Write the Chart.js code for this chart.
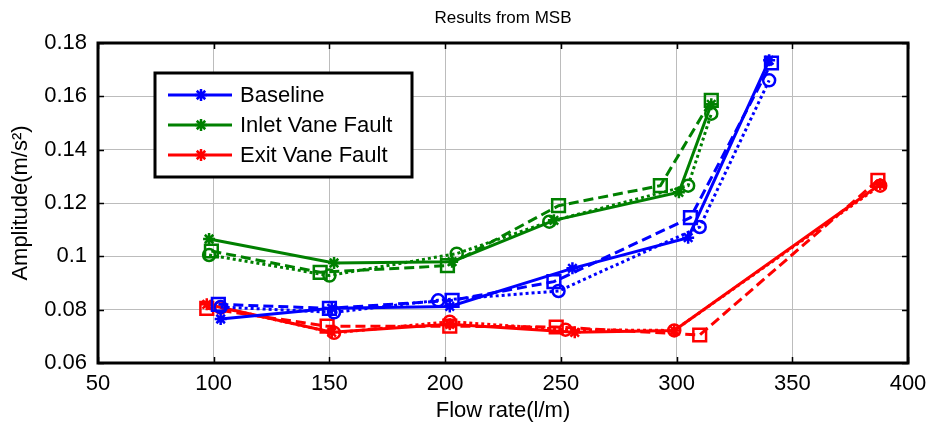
<!DOCTYPE html>
<html>
<head>
<meta charset="utf-8">
<script src="https://cdn.jsdelivr.net/npm/chart.js@4"></script>
<style>
  html, body { margin: 0; padding: 0; background: #fff; }
  #wrap { width: 929px; height: 430px; }
</style>
</head>
<body>
<div id="wrap"><canvas id="msb" width="929" height="430"></canvas></div>
<script>
// ---- data ----
const xTickLabels = ['50', '100', '150', '200', '250', '300', '350', '400'];
const yTickLabels = ['0.06', '0.08', '0.1', '0.12', '0.14', '0.16', '0.18'];
const legendNames = ['Baseline', 'Inlet Vane Fault', 'Exit Vane Fault'];
const chartTitle = 'Results from MSB';

// Baseline (blue)
const baseStarX = [103, 151, 202, 255, 305, 340];
const baseStarY = [0.0765, 0.0805, 0.0812, 0.0955, 0.107, 0.1735];
const baseSqX   = [102, 150, 203, 247, 306, 341];
const baseSqY   = [0.082, 0.0805, 0.0835, 0.0905, 0.1145, 0.1725];
const baseCirX  = [103, 152, 197, 249, 310, 340];
const baseCirY  = [0.081, 0.079, 0.0835, 0.087, 0.111, 0.166];

// Inlet vane fault (green)
const inStarX = [98, 152, 203, 247, 301, 315];
const inStarY = [0.1065, 0.0975, 0.098, 0.1135, 0.124, 0.157];
const inSqX   = [99, 146, 201, 249, 293, 315];
const inSqY   = [0.102, 0.094, 0.0965, 0.119, 0.1265, 0.1585];
const inCirX  = [98, 150, 205, 245, 305, 315];
const inCirY  = [0.1005, 0.0928, 0.101, 0.113, 0.1265, 0.1535];

// Exit vane fault (red)
const exStarX = [97, 151, 202, 256, 299, 388];
const exStarY = [0.082, 0.0715, 0.0745, 0.0715, 0.0722, 0.127];
const exSqX   = [97, 149, 202, 248, 310, 387];
const exSqY   = [0.0805, 0.0738, 0.0738, 0.0735, 0.0705, 0.1285];
const exCirX  = [103, 152, 202, 252, 299, 388];
const exCirY  = [0.0808, 0.0713, 0.0755, 0.0725, 0.0722, 0.1265];

const BLUE = '#0000ff', GREEN = '#008000', RED = '#ff0000';
const FONT = '"Liberation Sans", Arial, sans-serif';
const FS = 22;

function pts(xs, ys) {
    return xs.map((x, i) => ({ x: x, y: ys[i] }));
}

function series(xs, ys, color, style) {
    const s = {
        star:   { pointStyle: 'star',   radius: 6, dash: [] },
        square: { pointStyle: 'rect',   radius: 9, dash: [10, 5] },
        circle: { pointStyle: 'circle', radius: 6, dash: [3, 3] }
    }[style];
    return {
        data: pts(xs, ys),
        showLine: true,
        borderColor: color,
        backgroundColor: 'transparent',
        borderWidth: 3,
        borderDash: s.dash,
        pointStyle: s.pointStyle,
        pointRadius: s.radius,
        pointBorderWidth: 2.5,
        pointBorderColor: color,
        pointBackgroundColor: 'transparent',
        tension: 0
    };
}

const datasets = [
    series(baseStarX, baseStarY, BLUE, 'star'),
    series(baseSqX, baseSqY, BLUE, 'square'),
    series(baseCirX, baseCirY, BLUE, 'circle'),
    series(inStarX, inStarY, GREEN, 'star'),
    series(inSqX, inSqY, GREEN, 'square'),
    series(inCirX, inCirY, GREEN, 'circle'),
    series(exStarX, exStarY, RED, 'star'),
    series(exSqX, exSqY, RED, 'square'),
    series(exCirX, exCirY, RED, 'circle')
];

// MATLAB-style box with inward ticks, title centred on the axes
const framePlugin = {
    id: 'frame',
    afterDatasetsDraw(chart) {
        const { ctx, chartArea: a, scales } = chart;
        ctx.save();
        ctx.strokeStyle = '#000';
        ctx.lineWidth = 1.5;
        const tl = 6;
        scales.x.ticks.forEach(t => {
            const px = Math.round(scales.x.getPixelForValue(t.value)) + 0.5;
            ctx.beginPath();
            ctx.moveTo(px, a.bottom); ctx.lineTo(px, a.bottom - tl);
            ctx.moveTo(px, a.top); ctx.lineTo(px, a.top + tl);
            ctx.stroke();
        });
        scales.y.ticks.forEach(t => {
            const py = Math.round(scales.y.getPixelForValue(t.value)) + 0.5;
            ctx.beginPath();
            ctx.moveTo(a.left, py); ctx.lineTo(a.left + tl, py);
            ctx.moveTo(a.right, py); ctx.lineTo(a.right - tl, py);
            ctx.stroke();
        });
        ctx.lineWidth = 3;
        ctx.strokeRect(a.left, a.top, a.right - a.left, a.bottom - a.top);

        ctx.fillStyle = '#000';
        ctx.font = '17px ' + FONT;
        ctx.textAlign = 'center';
        ctx.textBaseline = 'middle';
        ctx.fillText(chartTitle, (a.left + a.right) / 2, 18);
        ctx.restore();
    }
};

// legend box drawn inside the axes, like MATLAB's
const legendPlugin = {
    id: 'boxLegend',
    afterDraw(chart) {
        const { ctx } = chart;
        const colors = [BLUE, GREEN, RED];
        const bx = 155, by = 73, bw = 257, bh = 104;
        ctx.save();
        ctx.fillStyle = '#fff';
        ctx.fillRect(bx, by, bw, bh);
        ctx.strokeStyle = '#000';
        ctx.lineWidth = 3;
        ctx.strokeRect(bx, by, bw, bh);
        ctx.font = FS + 'px ' + FONT;
        ctx.textBaseline = 'middle';
        legendNames.forEach((name, i) => {
            const y = by + 22 + i * 30;
            ctx.strokeStyle = colors[i];
            ctx.lineWidth = 3;
            ctx.setLineDash([]);
            ctx.beginPath();
            ctx.moveTo(bx + 13, y); ctx.lineTo(bx + 77, y);
            ctx.stroke();
            ctx.lineWidth = 2.5;
            Chart.helpers.drawPoint(ctx, { pointStyle: 'star', radius: 6, borderWidth: 2.5 }, bx + 46, y);
            ctx.fillStyle = '#000';
            ctx.fillText(name, bx + 85, y + 1);
        });
        ctx.restore();
    }
};

new Chart(document.getElementById('msb'), {
    type: 'scatter',
    data: { datasets: datasets },
    plugins: [framePlugin, legendPlugin],
    options: {
        responsive: false,
        animation: false,
        layout: { padding: { left: 0, right: 21, top: 43, bottom: 0 } },
        plugins: {
            legend: { display: false },
            tooltip: { enabled: false },
            title: { display: false }
        },
        scales: {
            x: {
                type: 'linear',
                min: 50, max: 400,
                afterBuildTicks: s => { s.ticks = xTickLabels.map(v => ({ value: parseFloat(v) })); },
                afterFit: s => { s.height = 67; s.paddingLeft = 0; s.paddingRight = 0; },
                ticks: {
                    color: '#000',
                    font: { family: FONT, size: FS },
                    padding: 8,
                    maxRotation: 0,
                    callback: (v, i) => xTickLabels[i]
                },
                grid: { color: '#bcbcbc', lineWidth: 1, drawTicks: false, tickLength: 0 },
                border: { display: false },
                title: {
                    display: true,
                    text: 'Flow rate(l/m)',
                    color: '#000',
                    font: { family: FONT, size: FS },
                    padding: { top: 0, bottom: 6 }
                }
            },
            y: {
                type: 'linear',
                min: 0.06, max: 0.18,
                afterBuildTicks: s => { s.ticks = yTickLabels.map(v => ({ value: parseFloat(v) })); },
                afterFit: s => { s.width = 98; s.paddingTop = 0; s.paddingBottom = 0; },
                ticks: {
                    color: '#000',
                    font: { family: FONT, size: FS },
                    padding: 11,
                    callback: (v, i) => yTickLabels[i]
                },
                grid: { color: '#bcbcbc', lineWidth: 1, drawTicks: false, tickLength: 0 },
                border: { display: false },
                title: {
                    display: true,
                    text: 'Amplitude(m/s²)',
                    color: '#000',
                    font: { family: FONT, size: FS },
                    padding: { top: 8, bottom: 0 }
                }
            }
        }
    }
});
</script>
</body>
</html>
